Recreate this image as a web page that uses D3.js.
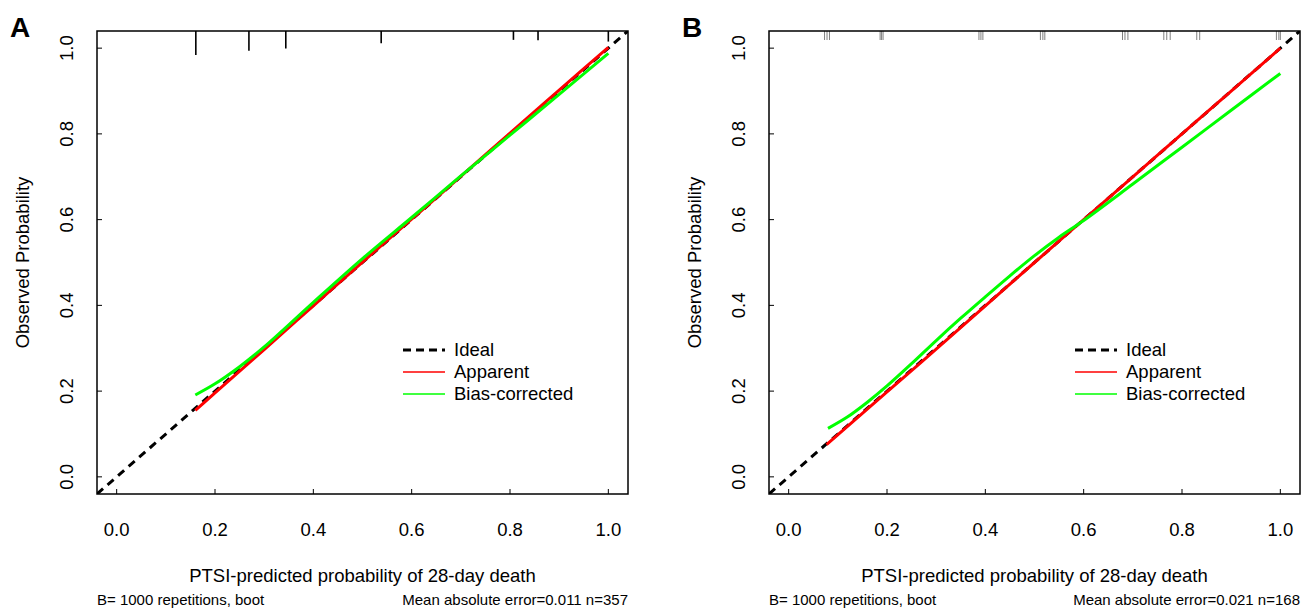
<!DOCTYPE html>
<html>
<head>
<meta charset="utf-8">
<script src="https://cdn.jsdelivr.net/npm/d3@7/dist/d3.min.js"></script>
<style>
  html, body { margin: 0; padding: 0; background: #fff; }
  svg { display: block; font-family: "Liberation Sans", Arial, sans-serif; }
</style>
</head>
<body>
<svg id="chart" width="1312" height="610"></svg>
<script>
// Axis ticks shared by both panels
const tickValues = [0, 0.2, 0.4, 0.6, 0.8, 1.0];
const tickLabels = ["0.0", "0.2", "0.4", "0.6", "0.8", "1.0"];

// Panel A (n=357)
const predA = [0.16, 0.2, 0.3, 0.4, 0.5, 0.6, 0.7, 0.8, 0.9, 1.0];
const apparentA = [0.155, 0.196, 0.297, 0.399, 0.501, 0.601, 0.701, 0.802, 0.902, 1.002];
const predBiasA = [0.16, 0.2, 0.25, 0.3, 0.4, 0.5, 0.6, 0.7, 0.8, 0.9, 1.0];
const biasCorrA = [0.191, 0.217, 0.257, 0.303, 0.407, 0.509, 0.605, 0.702, 0.797, 0.892, 0.988];
const rugValuesA = [0.161, 0.269, 0.344, 0.538, 0.807, 0.857, 1.0];
const rugCountsA = [84, 69, 61, 43, 31, 32, 37];

// Panel B (n=168)
const predB = [0.077, 0.2, 0.3, 0.4, 0.5, 0.6, 0.7, 0.8, 0.9, 1.0];
const apparentB = [0.075, 0.198, 0.298, 0.399, 0.5, 0.6, 0.7, 0.8, 0.9, 1.0];
const predBiasB = [0.08, 0.12, 0.16, 0.2, 0.25, 0.3, 0.35, 0.4, 0.45, 0.5, 0.55, 0.6, 0.7, 0.8, 0.9, 1.0];
const biasCorrB = [0.113, 0.14, 0.174, 0.212, 0.264, 0.318, 0.37, 0.42, 0.469, 0.516, 0.559, 0.598, 0.683, 0.769, 0.855, 0.941];
const rugValuesB = [0.073, 0.078, 0.083, 0.186, 0.189, 0.192, 0.387, 0.391, 0.395,
                    0.512, 0.517, 0.521, 0.679, 0.684, 0.690, 0.763, 0.769, 0.776,
                    0.830, 0.836, 0.992, 0.997, 1.0];
const rugCountsB = rugValuesB.map(() => 1);

const legendLabels = ["Ideal", "Apparent", "Bias-corrected"];
const xTitle = "PTSI-predicted probability of 28-day death";
const yTitle = "Observed Probability";

const panels = [
  { letter: "A", left: 97, pred: predA, app: apparentA, predBias: predBiasA, bias: biasCorrA,
    rugV: rugValuesA, rugC: rugCountsA, rugLen: 24, rugColor: "#000", rugWidth: 1.6,
    footL: "B= 1000 repetitions, boot", footR: "Mean absolute error=0.011 n=357" },
  { letter: "B", left: 769, pred: predB, app: apparentB, predBias: predBiasB, bias: biasCorrB,
    rugV: rugValuesB, rugC: rugCountsB, rugLen: 9, rugColor: "#808080", rugWidth: 1,
    footL: "B= 1000 repetitions, boot", footR: "Mean absolute error=0.021 n=168" }
];

const svg = d3.select("#chart");
svg.append("rect").attr("width", 1312).attr("height", 610).attr("fill", "#fff");

const plotTop = 31, plotBottom = 494, plotWidth = 531;
const domain = [-0.04, 1.04];

panels.forEach((p, i) => {
  const x = d3.scaleLinear().domain(domain).range([p.left, p.left + plotWidth]);
  const y = d3.scaleLinear().domain(domain).range([plotBottom, plotTop]);
  const g = svg.append("g");
  const clipId = "clip" + i;
  svg.append("clipPath").attr("id", clipId)
    .append("rect").attr("x", p.left).attr("y", plotTop)
    .attr("width", plotWidth).attr("height", plotBottom - plotTop);

  // Ideal diagonal
  g.append("line")
    .attr("clip-path", `url(#${clipId})`)
    .attr("x1", x(domain[0])).attr("y1", y(domain[0]))
    .attr("x2", x(domain[1])).attr("y2", y(domain[1]))
    .attr("stroke", "#000").attr("stroke-width", 3)
    .attr("stroke-dasharray", "8,6");

  const line = d3.line().curve(d3.curveCatmullRom.alpha(0.5));

  // Apparent
  g.append("path")
    .attr("d", line(p.pred.map((v, k) => [x(v), y(p.app[k])])))
    .attr("fill", "none").attr("stroke", "#ff0000").attr("stroke-width", 3);

  // Bias-corrected
  g.append("path")
    .attr("d", line(p.predBias.map((v, k) => [x(v), y(p.bias[k])])))
    .attr("fill", "none").attr("stroke", "#00ff00").attr("stroke-width", 3);

  // Rug of predicted probabilities along the top
  const maxC = d3.max(p.rugC);
  g.selectAll(".rug").data(p.rugV).join("line")
    .attr("x1", d => x(d)).attr("x2", d => x(d))
    .attr("y1", plotTop).attr("y2", (d, k) => plotTop + p.rugLen * p.rugC[k] / maxC)
    .attr("stroke", p.rugColor).attr("stroke-width", p.rugWidth);

  // Frame
  g.append("rect")
    .attr("x", p.left).attr("y", plotTop).attr("width", plotWidth).attr("height", plotBottom - plotTop)
    .attr("fill", "none").attr("stroke", "#000").attr("stroke-width", 1.5);

  // X ticks (inward) and labels
  g.selectAll(".xt").data(tickValues).join("line")
    .attr("x1", d => x(d)).attr("x2", d => x(d))
    .attr("y1", plotBottom).attr("y2", plotBottom - 5)
    .attr("stroke", "#000").attr("stroke-width", 1);
  g.selectAll(".xl").data(tickValues).join("text")
    .attr("x", d => x(d)).attr("y", 536)
    .attr("text-anchor", "middle").attr("font-size", 18.5)
    .text((d, k) => tickLabels[k]);

  // Y ticks (inward) and rotated labels
  g.selectAll(".yt").data(tickValues).join("line")
    .attr("x1", p.left).attr("x2", p.left + 5)
    .attr("y1", d => y(d)).attr("y2", d => y(d))
    .attr("stroke", "#000").attr("stroke-width", 1);
  g.selectAll(".yl").data(tickValues).join("text")
    .attr("transform", d => `translate(${p.left - 30},${y(d)}) rotate(-90)`)
    .attr("dy", "0.35em")
    .attr("text-anchor", "middle").attr("font-size", 18.5)
    .text((d, k) => tickLabels[k]);

  // Axis titles
  g.append("text")
    .attr("x", x(0.5)).attr("y", 582)
    .attr("text-anchor", "middle").attr("font-size", 18.5)
    .text(xTitle);
  g.append("text")
    .attr("transform", `translate(${p.left - 74},${(plotTop + plotBottom) / 2}) rotate(-90)`)
    .attr("dy", "0.35em")
    .attr("text-anchor", "middle").attr("font-size", 18.5)
    .text(yTitle);

  // Footnotes
  g.append("text").attr("x", p.left).attr("y", 605)
    .attr("font-size", 15).text(p.footL);
  g.append("text").attr("x", p.left + plotWidth).attr("y", 605)
    .attr("text-anchor", "end").attr("font-size", 15).text(p.footR);

  // Panel letter
  g.append("text").attr("x", p.left - 87).attr("y", 37)
    .attr("font-size", 28).attr("font-weight", "bold").text(p.letter);

  // Legend
  const lx = p.left + 306, ly = 350, step = 22;
  const styles = [
    { c: "#000", w: 3, dash: "8,5" },
    { c: "#ff0000", w: 1.5, dash: null },
    { c: "#00ff00", w: 1.5, dash: null }
  ];
  legendLabels.forEach((lab, k) => {
    g.append("line")
      .attr("x1", lx).attr("x2", lx + 42)
      .attr("y1", ly + k * step).attr("y2", ly + k * step)
      .attr("stroke", styles[k].c).attr("stroke-width", styles[k].w)
      .attr("stroke-dasharray", styles[k].dash);
    g.append("text")
      .attr("x", lx + 51).attr("y", ly + k * step).attr("dy", "0.35em")
      .attr("font-size", 18.5).text(lab);
  });
});
</script>
</body>
</html>
